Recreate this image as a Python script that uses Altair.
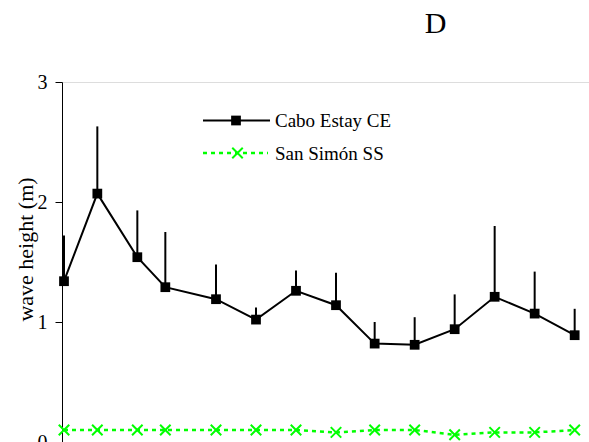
import altair as alt
import pandas as pd

# Sampling days (days since the first survey)
days = [0, 25, 55, 76, 114, 144, 174, 204, 233, 263, 293, 323, 353, 383]

# Cabo Estay (CE): mean wave height and standard deviation (m)
ce_mean = [1.34, 2.07, 1.54, 1.29, 1.19, 1.02, 1.26, 1.14, 0.82, 0.81, 0.94, 1.21, 1.07, 0.89]
ce_sd = [0.38, 0.56, 0.39, 0.46, 0.29, 0.10, 0.17, 0.27, 0.18, 0.23, 0.29, 0.59, 0.35, 0.22]

# San Simón (SS): mean wave height (m)
ss_mean = [0.10, 0.10, 0.10, 0.10, 0.10, 0.10, 0.10, 0.08, 0.10, 0.10, 0.06, 0.08, 0.08, 0.10]

series_names = ["Cabo Estay CE", "San Simón SS"]
y_ticks = [0, 1, 2, 3]

FONT = "Liberation Serif"
GREEN = "#00ff00"

df = pd.DataFrame({
    "day": days,
    "ce": ce_mean,
    "ce_top": [m + s for m, s in zip(ce_mean, ce_sd)],
    "ss": ss_mean,
})

x_enc = alt.X("day:Q", scale=alt.Scale(domain=[-1.5, 393.75], nice=False, zero=False), axis=None)
y_scale = alt.Scale(domain=[0, 3], nice=False, zero=True)
y_axis = alt.Axis(
    values=y_ticks, format="d", title="wave height (m)", grid=False,
    domainColor="black", domainWidth=1, tickColor="black", tickSize=7, tickWidth=1,
    labelFont=FONT, labelFontSize=20, labelColor="black", labelPadding=8,
    titleFont=FONT, titleFontSize=22, titleFontWeight="normal", titleColor="black",
    titleAngle=270, titleAlign="center", titleBaseline="middle", titleX=-37, titleY=167,
)

base = alt.Chart(df)

# upward error bars (mean + SD) for Cabo Estay
err = base.mark_rule(color="black", strokeWidth=2).encode(
    x=x_enc, y=alt.Y("ce:Q", scale=y_scale, axis=y_axis), y2="ce_top:Q"
)
ce_line = base.mark_line(color="black", strokeWidth=2).encode(
    x=x_enc, y=alt.Y("ce:Q", scale=y_scale)
)
ce_pts = base.mark_point(shape="square", filled=True, color="black", size=95, opacity=1).encode(
    x=x_enc, y=alt.Y("ce:Q", scale=y_scale)
)

XSHAPE = "M-1,-1L1,1M-1,1L1,-1"
ss_line = base.mark_line(color=GREEN, strokeWidth=2.5, strokeDash=[4, 4]).encode(
    x=x_enc, y=alt.Y("ss:Q", scale=y_scale)
)
ss_pts = base.mark_point(shape=XSHAPE, filled=False, color=GREEN, strokeWidth=2, size=110, opacity=1).encode(
    x=x_enc, y=alt.Y("ss:Q", scale=y_scale)
)

# legend drawn inside the plot area
leg_df = pd.DataFrame({"label": series_names})
leg_ce = alt.Chart(leg_df.iloc[[0]])
leg_ss = alt.Chart(leg_df.iloc[[1]])

leg1_line = leg_ce.mark_rule(color="black", strokeWidth=2).encode(
    x=alt.value(141), x2=alt.value(208), y=alt.value(38.5)
)
leg1_sym = leg_ce.mark_point(shape="square", filled=True, color="black", size=95, opacity=1).encode(
    x=alt.value(174), y=alt.value(38.5)
)
leg1_txt = leg_ce.mark_text(align="left", baseline="middle", font=FONT, fontSize=19, color="black").encode(
    x=alt.value(213), y=alt.value(39), text="label:N"
)
leg2_line = leg_ss.mark_rule(color=GREEN, strokeWidth=2.5, strokeDash=[4, 4]).encode(
    x=alt.value(141), x2=alt.value(206), y=alt.value(71)
)
leg2_sym = leg_ss.mark_point(shape=XSHAPE, filled=False, color=GREEN, strokeWidth=2, size=110, opacity=1).encode(
    x=alt.value(175.5), y=alt.value(71)
)
leg2_txt = leg_ss.mark_text(align="left", baseline="middle", font=FONT, fontSize=19, color="black").encode(
    x=alt.value(213), y=alt.value(71.5), text="label:N"
)

chart = alt.layer(
    err, ce_line, ce_pts, ss_line, ss_pts,
    leg1_line, leg1_sym, leg1_txt, leg2_line, leg2_sym, leg2_txt,
).properties(
    width=527,
    height=360,
    autosize=alt.AutoSizeParams(type="none"),
    padding={"left": 62, "top": 82, "right": 0, "bottom": 0},
    title=alt.TitleParams(
        text="D", font=FONT, fontSize=30, fontWeight="normal", color="black",
        anchor="middle", dx=110, offset=33,
    ),
).configure_view(stroke=None).configure(background="white")

chart.save("out.html", embed_options={"renderer": "svg", "actions": False})
